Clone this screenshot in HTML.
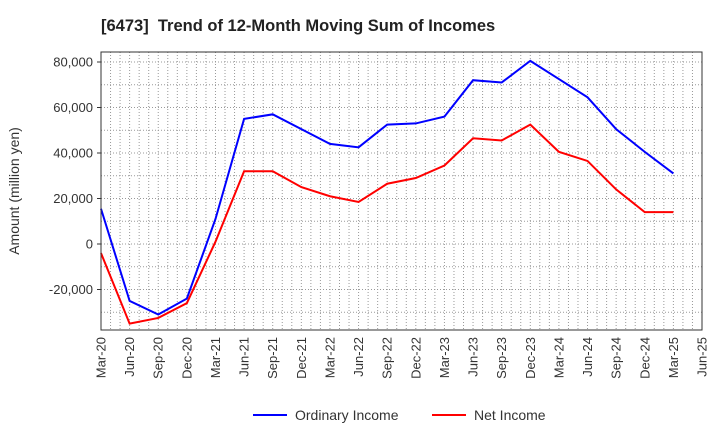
<!DOCTYPE html>
<html><head><meta charset="utf-8"><style>
body{margin:0;background:#fff;font-family:"Liberation Sans",sans-serif;}
</style></head><body>
<svg id="c" width="720" height="440" xmlns="http://www.w3.org/2000/svg">
<text x="101" y="31" font-size="16.5" font-weight="bold" fill="#222">[6473]&#160; Trend of 12-Month Moving Sum of Incomes</text>
<text transform="translate(19,191) rotate(-90)" text-anchor="middle" font-size="14" fill="#333">Amount (million yen)</text>
<g id="grid"></g><g id="ticks"></g><g id="series"></g>
<rect x="101" y="52" width="601" height="278" fill="none" stroke="#333" stroke-width="1"/>
<g>
<line x1="253" y1="415" x2="287" y2="415" stroke="#0000ff" stroke-width="2"/>
<text x="295" y="420" font-size="14" fill="#333">Ordinary Income</text>
<line x1="432" y1="415" x2="466" y2="415" stroke="#ff0000" stroke-width="2"/>
<text x="474" y="420" font-size="14" fill="#333">Net Income</text>
</g>
</svg>
<script>
const categories=["Mar-20","Jun-20","Sep-20","Dec-20","Mar-21","Jun-21","Sep-21","Dec-21","Mar-22","Jun-22","Sep-22","Dec-22","Mar-23","Jun-23","Sep-23","Dec-23","Mar-24","Jun-24","Sep-24","Dec-24","Mar-25","Jun-25"];
const ordinaryIncome=[15500,-25000,-31000,-24000,11000,55000,57000,50500,44000,42500,52500,53000,56000,72000,71000,80500,72500,64500,50500,40500,31000];
const netIncome=[-4000,-35000,-32500,-26000,1000,32000,32000,25000,21000,18500,26500,29000,34500,46500,45500,52500,40500,36500,24000,14000,14000];
const yTicks=[-20000,0,20000,40000,60000,80000];
const yTickLabels=["-20,000","0","20,000","40,000","60,000","80,000"];
const NS="http://www.w3.org/2000/svg";
const X0=101,X1=702,Y0=52,Y1=330;
const yMin=-37800,yMax=84400;
const x=i=>X0+i*(X1-X0)/(categories.length-1);
const y=v=>Y1-(v-yMin)/(yMax-yMin)*(Y1-Y0);
function mk(t,a,p){const e=document.createElementNS(NS,t);for(const k in a)e.setAttribute(k,a[k]);p.appendChild(e);return e;}
const g=document.getElementById('grid'),tk=document.getElementById('ticks'),s=document.getElementById('series');
for(let v=-30000;v<=80000;v+=10000){const l=mk('line',{x1:X0,x2:X1,y1:y(v),y2:y(v),stroke:'#999','stroke-dasharray':'1,2','stroke-width':1},g);

}
for(let m=1;m<(categories.length-1)*3;m++){const xm=X0+m*(X1-X0)/((categories.length-1)*3);
const l=mk('line',{x1:xm,x2:xm,y1:Y0,y2:Y1,stroke:'#999','stroke-dasharray':'1,2','stroke-width':1},g);

}
categories.forEach((c,i)=>{
const t=mk('text',{transform:`translate(${x(i)+4.5},${Y1+7}) rotate(-90)`,'text-anchor':'end','font-size':13,fill:'#333'},tk);t.textContent=c;

});
yTicks.forEach((v,i)=>{const t=mk('text',{x:X0-8,y:y(v)+4.5,'text-anchor':'end','font-size':13,fill:'#333'},tk);t.textContent=yTickLabels[i];


const l=mk('line',{x1:X0-4,x2:X0,y1:y(v),y2:y(v),stroke:'#333'},tk);

});
function line(d,col,name){const p=mk('polyline',{points:d.map((v,i)=>x(i)+','+y(v)).join(' '),fill:'none',stroke:col,'stroke-width':2},s);

}
line(ordinaryIncome,'#0000ff','ordinary-income-line');
line(netIncome,'#ff0000','net-income-line');
</script>
</body></html>
